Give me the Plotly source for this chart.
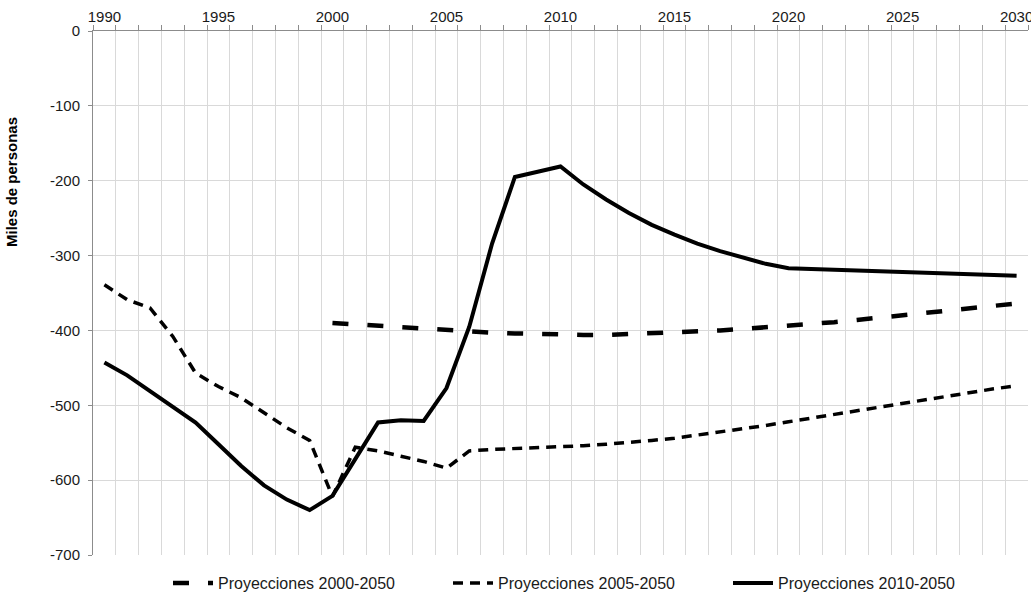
import plotly.graph_objects as go

years = list(range(1990, 2031))

proy_2010 = [-443, -460, -481, -502, -523, -552, -581, -607, -626, -640,
             -621, -572, -523, -520, -521, -477, -395, -284, -195, -188,
             -181, -205, -225, -243, -259, -272, -284, -294, -303, -311,
             -317, -318, -319, -321, -322, -323, -324, -325, -326, -327, -327]

proy_2005 = [-339, -359, -370, -408, -457, -475, -490, -510, -530, -547,
             -622, -556, -561, -568, -575, -584, -561, -559, -558, -557,
             -555, -554, -552, -550, -547, -544, -540, -536, -532, -527,
             -522, -517, -512, -508, -503, -498, -492, -487, -483, -478, -474]

proy_2000 = [None] * 10 + [-390, -392, -394, -396, -398, -400, -402, -403, -404, -405,
                           -405, -406, -406, -405, -404, -403, -402, -400, -398, -396,
                           -393, -391, -389, -386, -383, -380, -377, -374, -371, -368, -364]

names = ["Proyecciones 2000-2050", "Proyecciones 2005-2050", "Proyecciones 2010-2050"]
y_ticks = [0, -100, -200, -300, -400, -500, -600, -700]

W, H = 1031, 598
ml, mr, mt, mb = 93, 3, 31, 43
pw, ph = W - ml - mr, H - mt - mb

fig = go.Figure()
fig.add_trace(go.Scatter(x=years, y=proy_2000, name=names[0], mode="lines",
                         line=dict(color="black", width=4.5, dash="16px,19px")))
fig.add_trace(go.Scatter(x=years, y=proy_2005, name=names[1], mode="lines",
                         line=dict(color="black", width=3.5, dash="10px,7px")))
fig.add_trace(go.Scatter(x=years, y=proy_2010, name=names[2], mode="lines",
                         line=dict(color="black", width=4)))

fig.update_layout(
    width=W, height=H,
    margin=dict(l=ml, r=mr, t=mt, b=mb, autoexpand=False),
    paper_bgcolor="white", plot_bgcolor="white",
    font=dict(family="Liberation Sans, Arial, sans-serif", size=15, color="#1a1a1a"),
    showlegend=True,
    hovermode=False,
    legend=dict(orientation="h", x=(168 - ml) / pw, xanchor="left", y=-0.021, yanchor="top",
                font=dict(size=16), entrywidth=225, itemwidth=40,
                bgcolor="rgba(0,0,0,0)"),
    xaxis=dict(
        side="top", range=[1989.5, 2030.5], tickmode="linear", tick0=1990, dtick=5,
        ticks="", showgrid=False, zeroline=False, automargin=False,
        showline=True, linecolor="#8c8c8c", linewidth=1,
        minor=dict(tick0=1989.5, dtick=1, ticks="outside", ticklen=5,
                   tickcolor="#8c8c8c", showgrid=True, gridcolor="#d9d9d9", gridwidth=1),
        ticklabelstandoff=2, ticklabeloverflow="allow",
    ),
    yaxis=dict(
        range=[-700, 0], tickmode="array", tickvals=y_ticks,
        ticktext=[str(v) for v in y_ticks], automargin=False,
        ticks="outside", ticklen=4, tickcolor="#8c8c8c",
        showgrid=True, gridcolor="#d9d9d9", gridwidth=1, zeroline=False,
        showline=True, linecolor="#8c8c8c", linewidth=1,
        ticklabelstandoff=5,
    ),
    annotations=[dict(
        text="<b>Miles de personas</b>", textangle=-90, showarrow=False,
        xref="paper", yref="paper", x=(12 - ml) / pw, y=(H - mb - 182) / ph,
        xanchor="center", yanchor="middle", font=dict(size=15, color="black"),
    )],
)

fig.write_html("out.html", config={"displayModeBar": False},
               post_script="document.body.style.margin='0';document.body.style.overflow='hidden';")
